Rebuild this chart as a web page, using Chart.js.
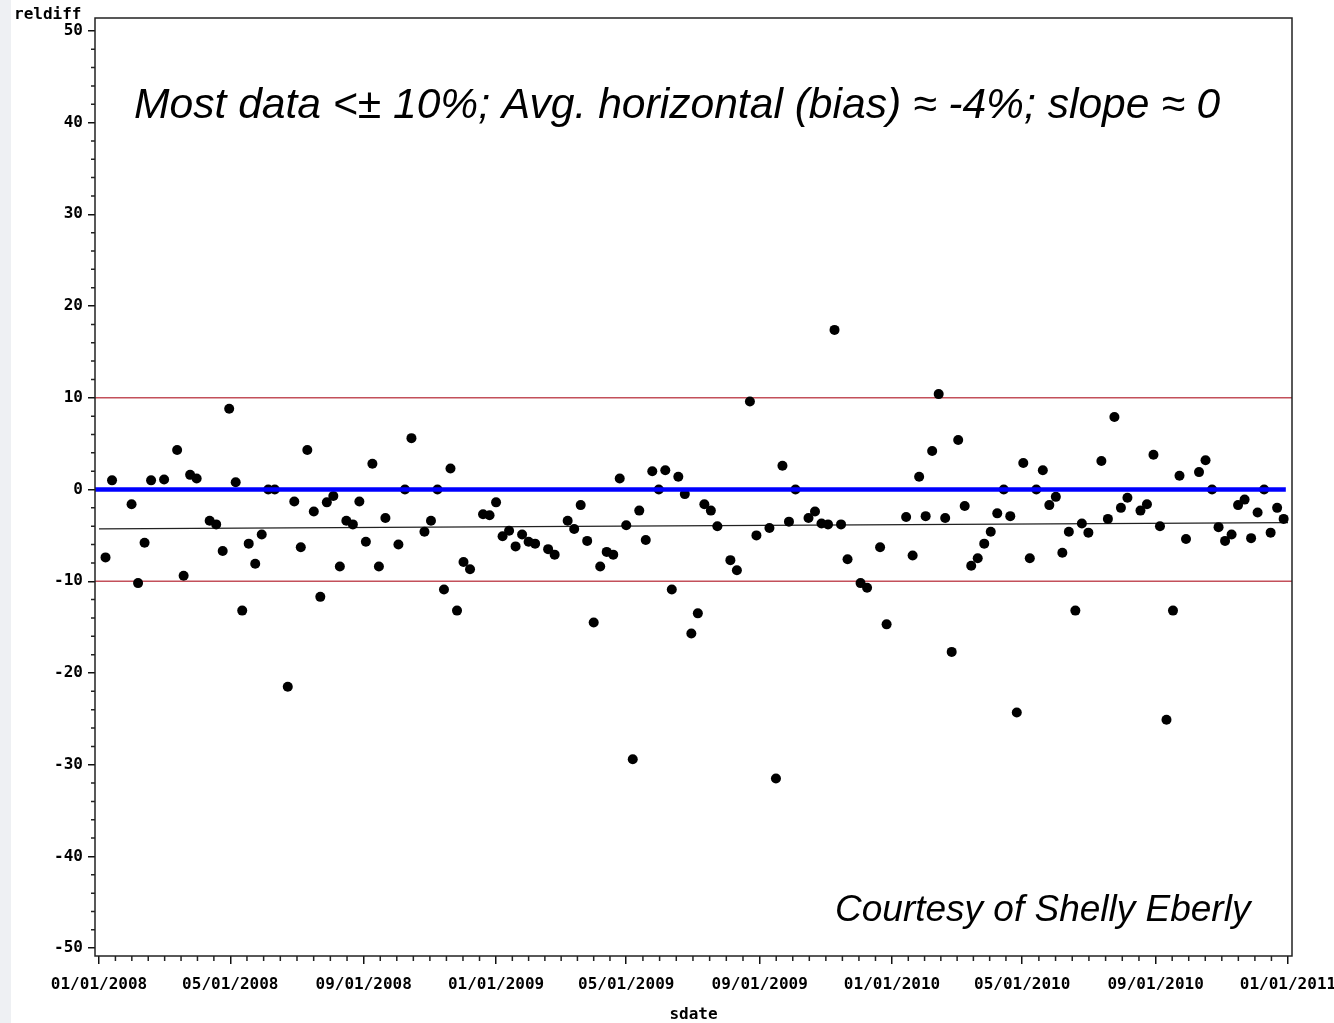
<!DOCTYPE html>
<html>
<head>
<meta charset="utf-8">
<script src="https://cdn.jsdelivr.net/npm/chart.js@4.4.1/dist/chart.umd.min.js"></script>
<style>
 html, body { margin: 0; padding: 0; background: #fff; }
 #wrap { width: 1334px; height: 1023px; position: relative;
         background: linear-gradient(to right, #eef0f3 0px, #eef0f3 11px, #fff 11px); }
</style>
</head>
<body>
<div id="wrap"><canvas id="myChart"></canvas></div>
<script>
// sample day = days since 01/01/2008, relDiff in %
const sampleDays = [
  6, 12, 30, 36, 42, 48, 60, 72, 78, 84,
  90, 102, 108, 114, 120, 126, 132, 138, 144, 150,
  156, 162, 174, 180, 186, 192, 198, 204, 210, 216,
  222, 228, 234, 240, 246, 252, 258, 264, 276, 282,
  288, 300, 306, 312, 318, 324, 330, 336, 342, 354,
  360, 366, 372, 378, 384, 390, 396, 402, 414, 420,
  432, 438, 444, 450, 456, 462, 468, 474, 480, 486,
  492, 498, 504, 510, 516, 522, 528, 534, 540, 546,
  552, 558, 564, 570, 582, 588, 600, 606, 618, 624,
  630, 636, 642, 654, 660, 666, 672, 678, 684, 690,
  702, 708, 720, 726, 744, 750, 756, 762, 768, 774,
  780, 786, 792, 798, 804, 810, 816, 822, 828, 834,
  840, 846, 852, 858, 864, 870, 876, 882, 888, 894,
  900, 906, 912, 924, 930, 936, 942, 948, 960, 966,
  972, 978, 984, 990, 996, 1002, 1014, 1020, 1026, 1032,
  1038, 1044, 1050, 1056, 1062, 1068, 1074, 1080, 1086, 1092
];
const relDiff = [
  -7.4, 1.0, -1.6, -10.2, -5.8, 1.0, 1.1, 4.3, -9.4, 1.6,
  1.2, -3.4, -3.8, -6.7, 8.8, 0.8, -13.2, -5.9, -8.1, -4.9,
  0, 0, -21.5, -1.3, -6.3, 4.3, -2.4, -11.7, -1.4, -0.7,
  -8.4, -3.4, -3.8, -1.3, -5.7, 2.8, -8.4, -3.1, -6.0, 0,
  5.6, -4.6, -3.4, 0, -10.9, 2.3, -13.2, -7.9, -8.7, -2.7,
  -2.8, -1.4, -5.1, -4.5, -6.2, -4.9, -5.7, -5.9, -6.5, -7.1,
  -3.4, -4.3, -1.7, -5.6, -14.5, -8.4, -6.8, -7.1, 1.2, -3.9,
  -29.4, -2.3, -5.5, 2.0, 0, 2.1, -10.9, 1.4, -0.5, -15.7,
  -13.5, -1.6, -2.3, -4.0, -7.7, -8.8, 9.6, -5.0, -4.2, -31.5,
  2.6, -3.5, 0, -3.1, -2.4, -3.7, -3.8, 17.4, -3.8, -7.6,
  -10.2, -10.7, -6.3, -14.7, -3.0, -7.2, 1.4, -2.9, 4.2, 10.4,
  -3.1, -17.7, 5.4, -1.8, -8.3, -7.5, -5.9, -4.6, -2.6, 0,
  -2.9, -24.3, 2.9, -7.5, 0, 2.1, -1.7, -0.8, -6.9, -4.6,
  -13.2, -3.7, -4.7, 3.1, -3.2, 7.9, -2.0, -0.9, -2.3, -1.6,
  3.8, -4.0, -25.1, -13.2, 1.5, -5.4, 1.9, 3.2, 0, -4.1,
  -5.6, -4.9, -1.7, -1.1, -5.3, -2.5, 0, -4.7, -2.0, -3.2
];
const xTickLabels = ['01/01/2008', '05/01/2008', '09/01/2008', '01/01/2009', '05/01/2009',
  '09/01/2009', '01/01/2010', '05/01/2010', '09/01/2010', '01/01/2011'];
const yTickLabels = [-50, -40, -30, -20, -10, 0, 10, 20, 30, 40, 50];
const limitLevels = [10, -10];
const biasLevel = 0;
const biasLineEnd = 1094;
const trendValues = [-4.3, -3.6];   // fitted line at first / last major tick

const tickFont = { family: '"DejaVu Sans Mono"', size: 16, weight: 'bold' };

function dayOf(s) {
  const [m, d, y] = s.split('/').map(Number);
  return (Date.UTC(y, m - 1, d) - Date.UTC(2008, 0, 1)) / 86400000;
}
const majorDays = xTickLabels.map(dayOf);
const xMin = majorDays[0] - 3.7;
const xMax = majorDays[majorDays.length - 1] + 3.7;

const framePlugin = {
  id: 'frame',
  afterDraw(chart) {
    const { ctx, chartArea: a, scales } = chart;
    ctx.save();
    ctx.strokeStyle = '#222';
    ctx.lineWidth = 1.5;
    ctx.strokeRect(a.left, a.top, a.right - a.left, a.bottom - a.top);
    // minor ticks
    ctx.beginPath();
    for (let v = -50; v <= 50; v += 2) {
      if (v % 10 === 0) continue;
      const y = scales.y.getPixelForValue(v);
      ctx.moveTo(a.left - 4, y); ctx.lineTo(a.left, y);
    }
    for (let i = 0; i < majorDays.length - 1; i++) {
      for (let k = 1; k < 8; k++) {
        const x = scales.x.getPixelForValue(majorDays[i] + (majorDays[i + 1] - majorDays[i]) * k / 8);
        ctx.moveTo(x, a.bottom); ctx.lineTo(x, a.bottom + 5);
      }
    }
    ctx.stroke();
    ctx.fillStyle = '#000';
    ctx.font = 'bold 16px "DejaVu Sans Mono"';
    ctx.fillText('reldiff', 14, 19);
    ctx.font = 'italic 42.6px "Liberation Sans"';
    ctx.fillText('Most data <\u00b1 10%; Avg. horizontal (bias) \u2248 -4%; slope \u2248 0', 134, 118);
    ctx.font = 'italic 37px "Liberation Sans"';
    ctx.fillText('Courtesy of Shelly Eberly', 835, 921);
    ctx.restore();
  }
};

function init() {
  const ctx = document.getElementById('myChart').getContext('2d');
  new Chart(ctx, {
    type: 'scatter',
    data: {
      datasets: [
        {
          label: 'bias',
          data: [{ x: xMin, y: biasLevel }, { x: biasLineEnd, y: biasLevel }],
          showLine: true, borderColor: '#0000ff', borderWidth: 4.5, pointRadius: 0, order: 0
        },
        {
          label: 'reldiff',
          data: sampleDays.map((d, i) => ({ x: d, y: relDiff[i] })),
          backgroundColor: '#000', borderWidth: 0, pointRadius: 5, order: 1
        },
        {
          label: 'trend',
          data: [{ x: majorDays[0], y: trendValues[0] }, { x: majorDays[majorDays.length - 1], y: trendValues[1] }],
          showLine: true, borderColor: '#222', borderWidth: 1.2, pointRadius: 0, order: 2
        },
        ...limitLevels.map(v => ({
          label: 'limit ' + v,
          data: [{ x: xMin, y: v }, { x: xMax, y: v }],
          showLine: true, borderColor: 'rgb(195,80,90)', borderWidth: 1.5, pointRadius: 0, order: 3
        }))
      ]
    },
    options: {
      responsive: true,
      maintainAspectRatio: false,
      devicePixelRatio: 1,
      animation: false,
      layout: { padding: { top: 18, right: 42, left: 0, bottom: 0 } },
      plugins: { legend: { display: false }, tooltip: { enabled: false } },
      scales: {
        x: {
          type: 'linear', min: xMin, max: xMax,
          border: { display: false },
          grid: { drawOnChartArea: false, drawTicks: true, tickLength: 8, color: '#111', lineWidth: 1.5 },
          afterBuildTicks: s => { s.ticks = majorDays.map(v => ({ value: v })); },
          afterFit: s => { s.height = 67; s.paddingLeft = 0; s.paddingRight = 0; },
          ticks: {
            autoSkip: false, maxRotation: 0, minRotation: 0, padding: 11,
            font: tickFont, color: '#000',
            callback: (v, i) => xTickLabels[i]
          },
          title: {
            display: true, text: 'sdate', color: '#000',
            font: { family: '"DejaVu Sans Mono"', size: 16, weight: 'bold', lineHeight: 1 },
            padding: { top: 0, bottom: 0 }
          }
        },
        y: {
          min: -50.85, max: 51.4,
          border: { display: false },
          grid: { drawOnChartArea: false, drawTicks: true, tickLength: 7, color: '#111', lineWidth: 1.5 },
          afterBuildTicks: s => { s.ticks = yTickLabels.map(v => ({ value: v })); },
          afterFit: s => { s.width = 95; s.paddingTop = 0; s.paddingBottom = 0; },
          ticks: { padding: 5, font: tickFont, color: '#000', callback: v => v }
        }
      }
    },
    plugins: [framePlugin]
  });
}

init();
</script>
</body>
</html>
